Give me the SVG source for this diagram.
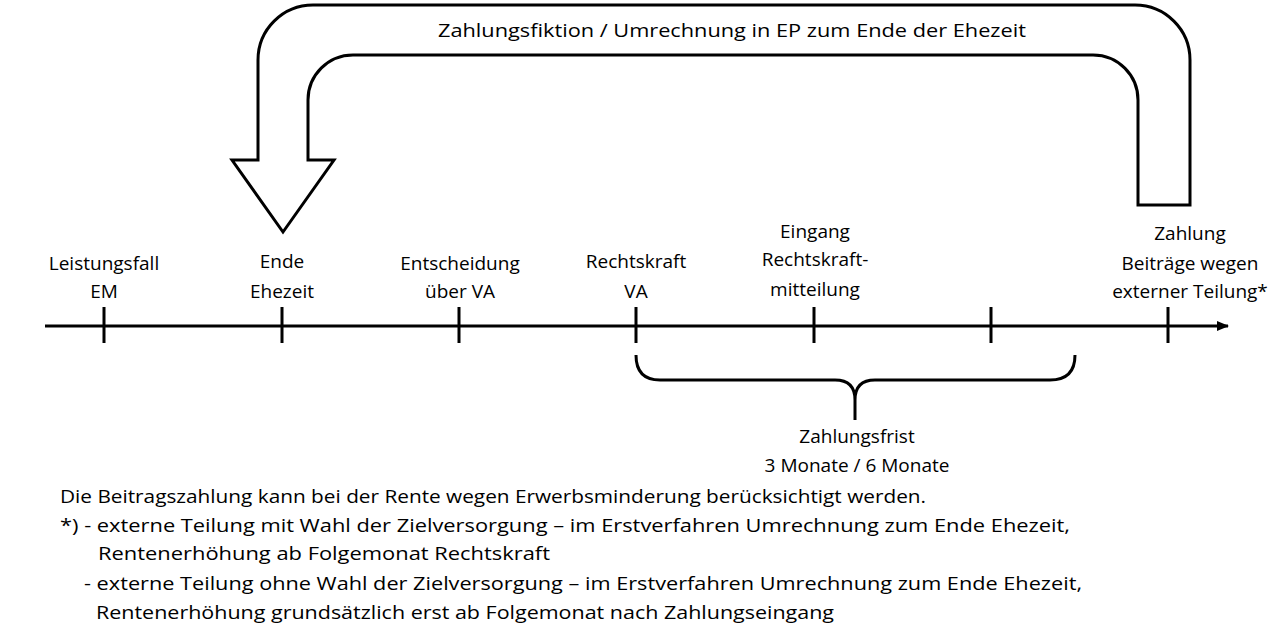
<svg xmlns="http://www.w3.org/2000/svg" width="1280" height="640" viewBox="0 0 1280 640">
<style>
text{font-family:"Open Sans","Liberation Sans",sans-serif;font-size:19px;fill:#000}
.c{text-anchor:middle}
.ln{stroke:#000;stroke-width:3;fill:none}
</style>
<defs><marker id="ah" markerWidth="12" markerHeight="10" refX="11" refY="5" orient="auto" markerUnits="userSpaceOnUse"><path d="M0,0 L12,5 L0,10 Z" fill="#000"/></marker></defs>
<rect width="1280" height="640" fill="#fff"/>
<g id="bigarrow">
<path d="M1190,205 V60 A55,55 0 0 0 1135,5 H313 A55,55 0 0 0 258,60 V160 H232 L283,232 L334,160 H308 V100 A45,45 0 0 1 353,55 H1093 A45,45 0 0 1 1138,100 V205 Z" fill="#fff" stroke="#000" stroke-width="3" stroke-linejoin="miter"/>
<text class="c" x="732" y="37" textLength="588" lengthAdjust="spacingAndGlyphs">Zahlungsfiktion / Umrechnung in EP zum Ende der Ehezeit</text>
</g>
<g id="connectors">
<line class="ln" x1="45" y1="326" x2="1228" y2="326" marker-end="url(#ah)"/>
<path class="ln" d="M104,307V343M282,307V343M459,307V343M636,307V343M814,307V343M991,307V343M1168,307V343"/>
<path class="ln" d="M636,355 Q636,380 660,380 H835 Q855,380 855,400 V420 M855,400 Q855,380 875,380 H1050 Q1075,380 1075,355"/>
</g>
<g id="labels">
<text class="c" x="104" y="270">Leistungsfall</text><text class="c" x="104" y="298">EM</text>
<text class="c" x="282" y="268">Ende</text><text class="c" x="282" y="298">Ehezeit</text>
<text class="c" x="460" y="270">Entscheidung</text><text class="c" x="460" y="298">über VA</text>
<text class="c" x="636" y="268">Rechtskraft</text><text class="c" x="636" y="298">VA</text>
<text class="c" x="815" y="238">Eingang</text><text class="c" x="815" y="266">Rechtskraft-</text><text class="c" x="815" y="296">mitteilung</text>
<text class="c" x="1190" y="240">Zahlung</text><text class="c" x="1190" y="270">Beiträge wegen</text><text class="c" x="1190" y="298">externer Teilung*</text>
<text class="c" x="857" y="443">Zahlungsfrist</text><text class="c" x="857" y="472">3 Monate / 6 Monate</text>
</g>
<g id="notes">
<text x="60" y="503" textLength="866" lengthAdjust="spacingAndGlyphs">Die Beitragszahlung kann bei der Rente wegen Erwerbsminderung berücksichtigt werden.</text>
<text x="60" y="532" textLength="1010" lengthAdjust="spacingAndGlyphs">*) - externe Teilung mit Wahl der Zielversorgung – im Erstverfahren Umrechnung zum Ende Ehezeit,</text>
<text x="98" y="560" textLength="452" lengthAdjust="spacingAndGlyphs">Rentenerhöhung ab Folgemonat Rechtskraft</text>
<text x="84" y="590" textLength="998" lengthAdjust="spacingAndGlyphs">- externe Teilung ohne Wahl der Zielversorgung – im Erstverfahren Umrechnung zum Ende Ehezeit,</text>
<text x="96" y="619" textLength="738" lengthAdjust="spacingAndGlyphs">Rentenerhöhung grundsätzlich erst ab Folgemonat nach Zahlungseingang</text>
</g>
</svg>
